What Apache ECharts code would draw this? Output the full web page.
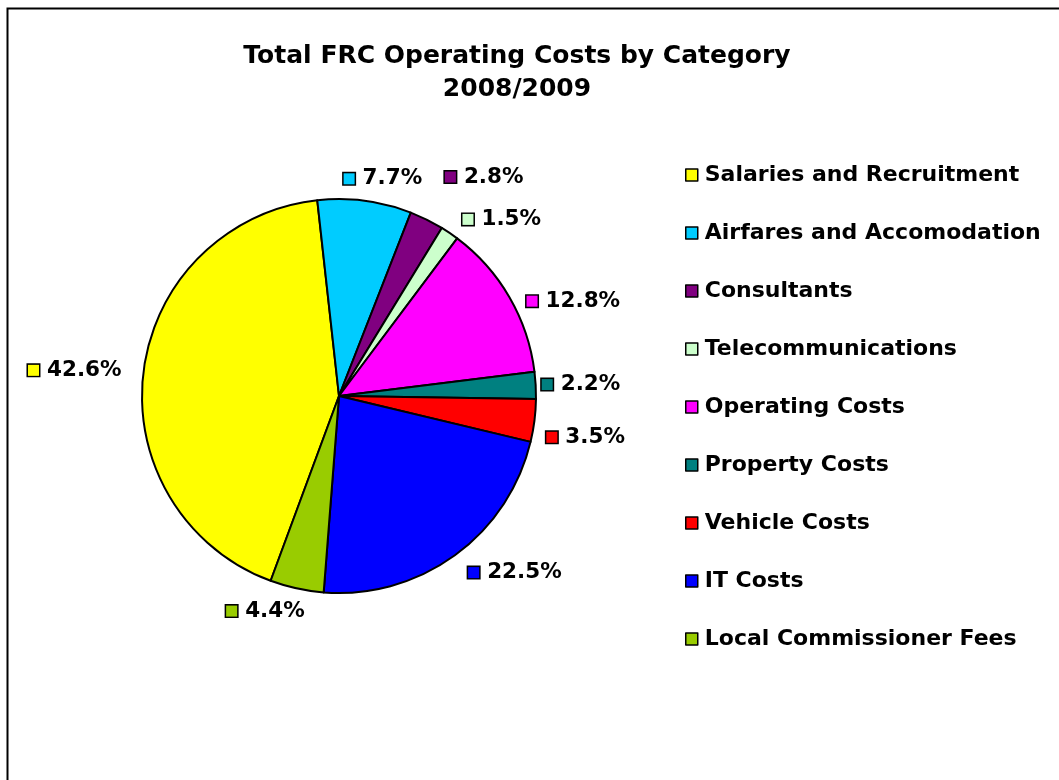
<!DOCTYPE html>
<html>
<head>
<meta charset="utf-8">
<script src="https://cdn.jsdelivr.net/npm/echarts@6/dist/echarts.min.js"></script>
<style>
html,body{margin:0;padding:0;background:#fff;}
#chart{width:1059px;height:780px;}
</style>
</head>
<body>
<div id="chart"></div>
<script>
// ---- data ----
const categories = ['Salaries and Recruitment','Airfares and Accomodation','Consultants','Telecommunications','Operating Costs','Property Costs','Vehicle Costs','IT Costs','Local Commissioner Fees'];
const values = [42.6, 7.7, 2.8, 1.5, 12.8, 2.2, 3.5, 22.5, 4.4];
const titleLines = ['Total FRC Operating Costs by Category','2008/2009'];

// ---- styles ----
const colors = ['#FFFF00','#00CCFF','#800080','#CCFFCC','#FF00FF','#008080','#FF0000','#0000FF','#99CC00'];
// small label nudges (dx, dy) imitating the manual placement of the source chart
const labelNudgeX = [-3, -28, 7, 0, 0, -13, -7, 0, 16];
const labelNudgeY = [0, -8, -30, -2, 11, 0, 15, 6, 9];

const FONT = '"DejaVu Sans", Verdana, sans-serif';
const rich = {v:{fontFamily:FONT,fontWeight:'bold',fontSize:21.5,color:'#000',padding:[0,0,0,8]}};
colors.forEach((c,i)=>{ rich['b'+i] = {width:11,height:11,backgroundColor:c,borderColor:'#000',borderWidth:1.5}; });

const chart = echarts.init(document.getElementById('chart'));
chart.setOption({
  animation:false,
  backgroundColor:'#fff',
  color:colors,
  graphic:[{type:'rect',shape:{x:7.5,y:8.5,width:1100,height:800},style:{fill:'none',stroke:'#000',lineWidth:2},silent:true}],
  title:{
    text:titleLines.join('\n'),
    left:512, top:35, textAlign:'center',
    textStyle:{fontFamily:FONT,fontWeight:'bold',fontSize:25,lineHeight:33,color:'#000'}
  },
  legend:{
    orient:'vertical', left:680, top:157,
    itemWidth:12, itemHeight:12, itemGap:32,
    icon:'rect',
    itemStyle:{borderColor:'#000',borderWidth:1.5},
    textStyle:{fontFamily:FONT,fontWeight:'bold',fontSize:22,lineHeight:26,color:'#000',padding:[0,0,0,2]},
    data:categories
  },
  series:[{
    type:'pie',
    center:[339,396], radius:197,
    startAngle:-110.3, clockwise:true,
    avoidLabelOverlap:false,
    itemStyle:{borderColor:'#000',borderWidth:2},
    emphasis:{disabled:true},
    label:{
      show:true, position:'outside', alignTo:'none',
      formatter:p=>'{b'+p.dataIndex+'|}{v|'+p.value.toFixed(1)+'%}',
      rich:rich
    },
    labelLine:{show:false,length:14,length2:0},
    labelLayout:p=>({hideOverlap:false, dx:labelNudgeX[p.dataIndex], dy:labelNudgeY[p.dataIndex]}),
    data:categories.map((n,i)=>({name:n,value:values[i]}))
  }]
});
</script>
</body>
</html>
